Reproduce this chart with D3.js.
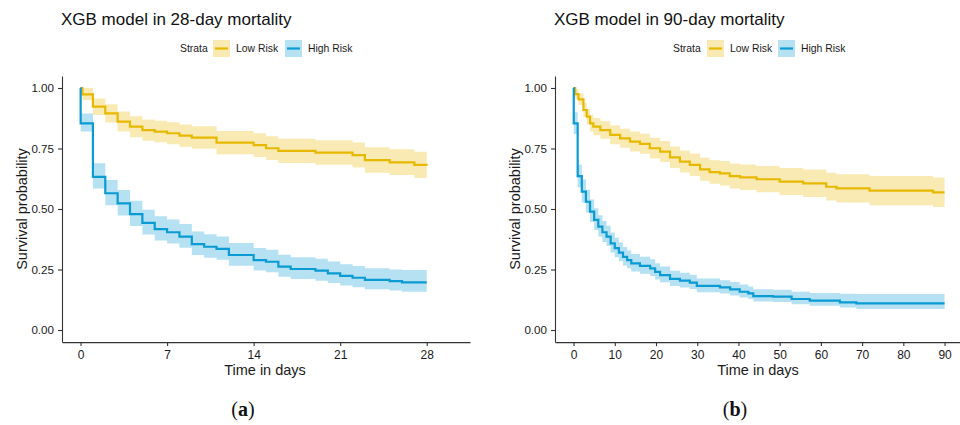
<!DOCTYPE html>
<html>
<head>
<meta charset="utf-8">
<script src="https://cdn.jsdelivr.net/npm/d3@7"></script>
<style>
  html, body { margin: 0; padding: 0; background: #fff; }
  svg { display: block; font-family: "Liberation Sans", Arial, sans-serif; }
</style>
</head>
<body>
<svg id="chart" width="960" height="425"></svg>
<script>
// ---------- Data ----------
const strata = ["Low Risk", "High Risk"];
const strataColors = ["#E7B800", "#0A9AD4"];

// Panel (a): 28-day mortality
const a_titles = "XGB model in 28-day mortality";
const a_xTicks = [0, 7, 14, 21, 28];
const a_lowTime  = [0, 0.15, 1, 2, 3, 4, 5, 6, 7, 8, 9, 11, 14, 15, 16, 19, 22, 23, 25, 27, 28];
const a_lowSurv  = [1, 0.974, 0.923, 0.895, 0.861, 0.84, 0.826, 0.82, 0.813, 0.803, 0.795, 0.774, 0.764, 0.751, 0.74, 0.733, 0.723, 0.702, 0.693, 0.682, 0.68];
const a_lowLower = [1, 0.95, 0.888, 0.857, 0.82, 0.797, 0.782, 0.776, 0.768, 0.757, 0.749, 0.726, 0.715, 0.702, 0.69, 0.683, 0.672, 0.65, 0.64, 0.628, 0.626];
const a_lowUpper = [1, 1.0, 0.957, 0.933, 0.903, 0.883, 0.87, 0.865, 0.858, 0.849, 0.842, 0.822, 0.813, 0.801, 0.79, 0.784, 0.775, 0.755, 0.747, 0.737, 0.735];

const a_highTime  = [0, 0.01, 1, 2, 3, 4, 5, 6, 7, 8, 9, 10, 11, 12, 14, 15, 16, 17, 19, 20, 21, 22, 23, 25, 26, 28];
const a_highSurv  = [1, 0.854, 0.633, 0.565, 0.523, 0.479, 0.443, 0.417, 0.404, 0.386, 0.355, 0.344, 0.335, 0.31, 0.289, 0.282, 0.262, 0.252, 0.245, 0.234, 0.224, 0.216, 0.207, 0.202, 0.197, 0.197];
const a_highLower = [1, 0.82, 0.585, 0.515, 0.473, 0.43, 0.395, 0.37, 0.357, 0.34, 0.31, 0.299, 0.29, 0.266, 0.246, 0.239, 0.22, 0.211, 0.204, 0.194, 0.184, 0.177, 0.168, 0.163, 0.158, 0.158];
const a_highUpper = [1, 0.895, 0.689, 0.62, 0.578, 0.534, 0.497, 0.47, 0.457, 0.438, 0.407, 0.396, 0.386, 0.36, 0.339, 0.332, 0.311, 0.301, 0.294, 0.283, 0.272, 0.264, 0.255, 0.25, 0.248, 0.248];

// Panel (b): 90-day mortality
const b_titles = "XGB model in 90-day mortality";
const b_xTicks = [0, 10, 20, 30, 40, 50, 60, 70, 80, 90];
const b_lowTime  = [0, 0.4, 1.2, 2.4, 3.2, 4, 4.8, 6.5, 8.9, 11.3, 13.7, 16.1, 18.5, 21, 23.4, 25.8, 28.2, 30.7, 33, 35.5, 37.9, 40.4, 44.4, 50, 55.7, 61.3, 63.8, 71.8, 87.2, 90];
const b_lowSurv  = [1, 0.975, 0.953, 0.909, 0.882, 0.854, 0.84, 0.826, 0.806, 0.792, 0.778, 0.769, 0.751, 0.737, 0.713, 0.696, 0.682, 0.664, 0.652, 0.647, 0.636, 0.631, 0.623, 0.613, 0.606, 0.592, 0.585, 0.576, 0.569, 0.569];
const b_lowLower = [1, 0.955, 0.93, 0.88, 0.85, 0.82, 0.805, 0.79, 0.768, 0.753, 0.738, 0.728, 0.709, 0.694, 0.669, 0.651, 0.636, 0.617, 0.604, 0.597, 0.585, 0.579, 0.569, 0.558, 0.55, 0.535, 0.527, 0.516, 0.508, 0.508];
const b_lowUpper = [1, 0.995, 0.977, 0.939, 0.914, 0.889, 0.876, 0.863, 0.845, 0.832, 0.82, 0.811, 0.794, 0.781, 0.758, 0.742, 0.729, 0.712, 0.701, 0.698, 0.688, 0.684, 0.678, 0.669, 0.663, 0.65, 0.644, 0.636, 0.63, 0.63];

const b_highTime  = [0, 0.05, 1, 2, 3, 4, 5, 6, 7, 8, 9, 10, 11, 12, 13, 14, 16.1, 18.6, 19.8, 21, 23.4, 25.8, 28.2, 29.9, 35.5, 38, 40.3, 42.4, 43.6, 48.4, 52.9, 57.3, 64.6, 68.6, 90];
const b_highSurv  = [1, 0.854, 0.636, 0.572, 0.53, 0.489, 0.455, 0.427, 0.404, 0.386, 0.358, 0.338, 0.32, 0.302, 0.289, 0.275, 0.265, 0.255, 0.24, 0.227, 0.211, 0.204, 0.196, 0.182, 0.176, 0.168, 0.158, 0.151, 0.14, 0.138, 0.128, 0.121, 0.114, 0.11, 0.11];
const b_highLower = [1, 0.81, 0.59, 0.527, 0.486, 0.446, 0.413, 0.386, 0.364, 0.347, 0.32, 0.301, 0.284, 0.267, 0.255, 0.242, 0.232, 0.223, 0.209, 0.197, 0.182, 0.176, 0.169, 0.156, 0.151, 0.143, 0.134, 0.128, 0.118, 0.116, 0.106, 0.1, 0.093, 0.087, 0.087];
const b_highUpper = [1, 0.9, 0.684, 0.622, 0.58, 0.539, 0.503, 0.474, 0.45, 0.431, 0.403, 0.381, 0.362, 0.343, 0.329, 0.314, 0.303, 0.292, 0.276, 0.262, 0.245, 0.237, 0.228, 0.213, 0.206, 0.198, 0.188, 0.18, 0.168, 0.166, 0.158, 0.153, 0.15, 0.149, 0.149];

const yTicks = [0, 0.25, 0.5, 0.75, 1];
const yTickLabels = ["0.00", "0.25", "0.50", "0.75", "1.00"];
const xTitle = "Time in days";
const yTitle = "Survival probability";
const legendTitle = "Strata";

// ---------- Drawing ----------
const svg = d3.select("#chart");

function zip(t, s, lo, hi) {
  return t.map((d, i) => ({ t: d, s: s[i], lo: lo[i], hi: hi[i] }));
}

function drawPanel(p) {
  const g = svg.append("g");
  const x = d3.scaleLinear().domain(p.xDomain).range(p.xRange);
  const y = d3.scaleLinear().domain([-0.05, 1.05]).range([342.1, 75.9]);

  // clip for data (plot area)
  const clipId = "clip" + p.id;
  svg.append("clipPath").attr("id", clipId).append("rect")
    .attr("x", p.xRange[0]).attr("y", 70).attr("width", p.xRange[1] - p.xRange[0]).attr("height", 280);

  const dataG = g.append("g").attr("clip-path", `url(#${clipId})`);

  p.series.forEach((ser, k) => {
    const data = zip(ser.time, ser.surv, ser.lower, ser.upper);
    const area = d3.area().curve(d3.curveStepAfter)
      .x(d => x(d.t)).y0(d => y(d.lo)).y1(d => y(d.hi));
    dataG.append("path").datum(data).attr("d", area)
      .attr("fill", strataColors[k]).attr("fill-opacity", 0.3).attr("stroke", "none");
  });
  p.series.forEach((ser, k) => {
    const data = zip(ser.time, ser.surv, ser.lower, ser.upper);
    const line = d3.line().curve(d3.curveStepAfter).x(d => x(d.t)).y(d => y(d.s));
    dataG.append("path").datum(data).attr("d", line)
      .attr("fill", "none").attr("stroke", strataColors[k]).attr("stroke-width", 2.2);
  });

  // axes
  const xAxis = d3.axisBottom(x).tickValues(p.xTicks).tickSize(4).tickPadding(4).tickSizeOuter(0);
  const gx = g.append("g").attr("transform", "translate(0,342.1)").call(xAxis);
  const yAxis = d3.axisLeft(y).tickValues(yTicks).tickFormat((d, i) => yTickLabels[i])
    .tickSize(4).tickPadding(4).tickSizeOuter(0);
  const gy = g.append("g").attr("transform", `translate(${p.xRange[0]},0)`).call(yAxis);
  [gx, gy].forEach(a => {
    a.select(".domain").attr("stroke", "#333").attr("stroke-width", 1.1);
    a.selectAll(".tick line").attr("stroke", "#333").attr("stroke-width", 1.1);
    a.selectAll(".tick text").attr("fill", "#1a1a1a").style("font-family", "'Liberation Sans', Arial, sans-serif");
  });
  gx.selectAll(".tick text").style("font-size", "12px");
  gy.selectAll(".tick text").style("font-size", "11.6px");

  // axis titles
  g.append("text").attr("x", (p.xRange[0] + p.xRange[1]) / 2 - 1).attr("y", 375)
    .attr("text-anchor", "middle").attr("font-size", 14.5).attr("fill", "#1a1a1a").text(xTitle);
  g.append("text").attr("transform", `translate(${p.xRange[0] - 35},209) rotate(-90)`)
    .attr("text-anchor", "middle").attr("font-size", 14.5).attr("fill", "#1a1a1a").text(yTitle);

  // title
  g.append("text").attr("x", p.xRange[0] - 1).attr("y", 25)
    .attr("font-size", 17).attr("fill", "#111").text(p.title);

  // legend
  const lg = g.append("g");
  lg.append("text").attr("x", p.legend.strataX).attr("y", 52).attr("font-size", 10.4).attr("fill", "#1a1a1a").text(legendTitle);
  strata.forEach((s, k) => {
    const kx = p.legend.keyX[k];
    lg.append("rect").attr("x", kx).attr("y", 40).attr("width", 17).attr("height", 17)
      .attr("fill", strataColors[k]).attr("fill-opacity", 0.3);
    lg.append("line").attr("x1", kx + 2).attr("x2", kx + 15).attr("y1", 48.5).attr("y2", 48.5)
      .attr("stroke", strataColors[k]).attr("stroke-width", 2.2);
    lg.append("text").attr("x", kx + 23).attr("y", 52).attr("font-size", 10.4).attr("fill", "#1a1a1a").text(s);
  });

  // caption
  const cap = g.append("text").attr("x", p.captionX).attr("y", 416)
    .attr("text-anchor", "middle").attr("font-size", 20)
    .style("font-family", "'Liberation Serif', 'DejaVu Serif', serif").attr("fill", "#111");
  cap.append("tspan").text("(");
  cap.append("tspan").attr("font-weight", "bold").text(p.captionLetter);
  cap.append("tspan").text(")");
}

drawPanel({
  id: "a", title: a_titles, xDomain: [-1.5, 31.5], xRange: [62, 470], xTicks: a_xTicks,
  series: [
    { time: a_lowTime, surv: a_lowSurv, lower: a_lowLower, upper: a_lowUpper },
    { time: a_highTime, surv: a_highSurv, lower: a_highLower, upper: a_highUpper }
  ],
  legend: { strataX: 180, keyX: [213, 285] },
  captionX: 243, captionLetter: "a"
});

drawPanel({
  id: "b", title: b_titles, xDomain: [-4.5, 94.5], xRange: [555, 963.1], xTicks: b_xTicks,
  series: [
    { time: b_lowTime, surv: b_lowSurv, lower: b_lowLower, upper: b_lowUpper },
    { time: b_highTime, surv: b_highSurv, lower: b_highLower, upper: b_highUpper }
  ],
  legend: { strataX: 673, keyX: [707, 778] },
  captionX: 735, captionLetter: "b"
});
</script>
</body>
</html>
